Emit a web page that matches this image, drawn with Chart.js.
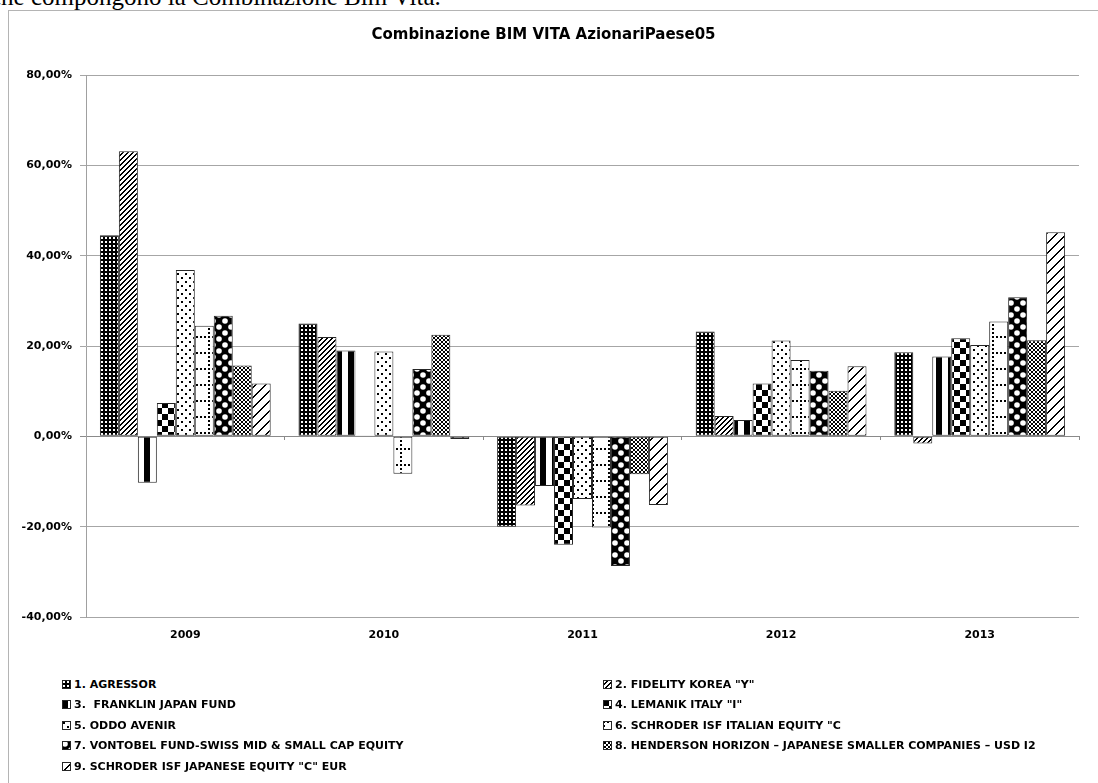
<!DOCTYPE html>
<html>
<head>
<meta charset="utf-8">
<script src="https://cdn.jsdelivr.net/npm/chart.js@4.4.0/dist/chart.umd.min.js"></script>
<style>
  body { margin: 0; background: #fff; width: 1098px; height: 783px; overflow: hidden; position: relative; }
  #intro { position: absolute; left: -10px; top: -16px; font: 25px/25px "Liberation Serif", serif; white-space: nowrap; color: #000; }
  #frame { position: absolute; left: 8px; top: 10px; width: 1200px; height: 900px; border: 1px solid #b4b4b4; }
  #chart { position: absolute; left: 0; top: 0; }
  #legend { position: absolute; left: 62px; top: 674px; display: grid; grid-template-columns: 541px 480px; grid-auto-rows: 20.5px; font: bold 11px "DejaVu Sans", sans-serif; color: #000; }
  .item { display: flex; align-items: center; white-space: pre; }
  .item canvas { width: 9px; height: 9px; margin-right: 3px; }
</style>
</head>
<body>
<div id="intro">che compongono la Combinazione Bim Vita.</div>
<div id="frame"></div>
<canvas id="chart" width="1098" height="660"></canvas>
<div id="legend"></div>
<script>
const years = ['2009', '2010', '2011', '2012', '2013'];
const fundNames = [
  '1. AGRESSOR',
  '2. FIDELITY KOREA "Y"',
  '3.  FRANKLIN JAPAN FUND',
  '4. LEMANIK ITALY "I"',
  '5. ODDO AVENIR',
  '6. SCHRODER ISF ITALIAN EQUITY "C',
  '7. VONTOBEL FUND-SWISS MID & SMALL CAP EQUITY',
  '8. HENDERSON HORIZON \u2013 JAPANESE SMALLER COMPANIES \u2013 USD I2',
  '9. SCHRODER ISF JAPANESE EQUITY "C" EUR'
];
// rendimenti annui in %
const agressor = [44.5, 25.0, -20.0, 23.2, 18.6];
const fidelityKorea = [63.1, 22.0, -15.3, 4.5, -1.6];
const franklinJapan = [-10.3, 19.0, -11.0, 3.6, 17.7];
const lemanikItaly = [7.4, 0.2, -24.0, 11.7, 21.7];
const oddoAvenir = [36.8, 18.8, -13.9, 21.2, 20.2];
const schroderItalian = [24.5, -8.3, -20.2, 16.9, 25.4];
const vontobelSwiss = [26.7, 14.9, -28.7, 14.5, 30.8];
const hendersonJapan = [15.7, 22.5, -8.4, 10.1, 21.3];
const schroderJapanese = [11.7, -0.6, -15.2, 15.5, 45.2];
const yTicks = [-40, -20, 0, 20, 40, 60, 80];

const seriesValues = [agressor, fidelityKorea, franklinJapan, lemanikItaly, oddoAvenir,
  schroderItalian, vontobelSwiss, hendersonJapan, schroderJapanese];

function tile(w, h, draw) {
  const c = document.createElement('canvas');
  c.width = w;
  c.height = h;
  const g = c.getContext('2d');
  g.fillStyle = '#fff';
  g.fillRect(0, 0, w, h);
  g.fillStyle = '#000';
  draw(g, w, h);
  return c;
}

function makePatterns(ctx) {
  const tiles = [
    tile(4, 4, g => { g.fillRect(0, 0, 4, 4); g.fillStyle = '#fff'; g.fillRect(1, 1, 2, 2); }),
    tile(5, 5, g => { for (let i = 0; i < 5; i++) { g.fillRect(i, 4 - i, 1, 1); g.fillRect((i + 1) % 5, 4 - i, 1, 1); } }),
    tile(12, 1, g => { g.fillRect(0, 0, 6, 1); }),
    tile(12, 12, g => { g.fillRect(0, 0, 6, 6); g.fillRect(6, 6, 6, 6); }),
    tile(8, 8, g => { g.fillRect(1, 1, 2, 2); g.fillRect(5, 5, 2, 2); }),
    tile(16, 16, g => { for (let i = 0; i < 16; i += 4) { g.fillRect(i, 0, 2, 2); g.fillRect(0, i, 2, 2); } }),
    tile(12, 12, g => {
      g.fillRect(0, 0, 12, 12);
      g.fillStyle = '#fff';
      g.beginPath(); g.arc(3, 3, 2.8, 0, Math.PI * 2); g.fill();
      g.beginPath(); g.arc(9, 9, 2.8, 0, Math.PI * 2); g.fill();
    }),
    tile(4, 4, g => { for (let i = 0; i < 4; i++) { g.fillRect(i, i, 1, 1); g.fillRect(i, 3 - i, 1, 1); } }),
    tile(10, 10, g => { for (let i = 0; i < 10; i++) { g.fillRect(i, 9 - i, 1, 1); g.fillRect((i + 1) % 10, 9 - i, 1, 1); } })
  ];
  return tiles.map(t => ctx.createPattern(t, 'repeat'));
}

function buildLegend(patterns) {
  const box = document.getElementById('legend');
  fundNames.forEach((name, i) => {
    const item = document.createElement('div');
    item.className = 'item';
    const sw = document.createElement('canvas');
    sw.width = 9;
    sw.height = 9;
    const g = sw.getContext('2d');
    g.fillStyle = patterns[i];
    g.fillRect(0, 0, 9, 9);
    g.strokeStyle = '#262626';
    g.lineWidth = 1;
    g.strokeRect(0.5, 0.5, 8, 8);
    item.appendChild(sw);
    const label = document.createElement('span');
    label.textContent = name;
    item.appendChild(label);
    box.appendChild(item);
  });
}

function init() {
  const canvas = document.getElementById('chart');
  const ctx = canvas.getContext('2d');
  const patterns = makePatterns(ctx);
  Chart.defaults.font.family = '"DejaVu Sans", sans-serif';
  Chart.defaults.color = '#000';

  new Chart(ctx, {
    type: 'bar',
    data: {
      labels: years,
      datasets: seriesValues.map((vals, i) => ({
        label: fundNames[i],
        data: vals,
        backgroundColor: patterns[i],
        borderColor: '#262626',
        borderWidth: 1,
        borderSkipped: false,
        categoryPercentage: 0.86,
        barPercentage: 1.0
      }))
    },
    options: {
      responsive: false,
      animation: false,
      layout: { padding: { left: 8, right: 19, top: 10, bottom: 13 } },
      plugins: {
        legend: { display: false },
        tooltip: { enabled: false },
        title: {
          display: true,
          text: 'Combinazione BIM VITA AzionariPaese05',
          color: '#000',
          font: { size: 15, weight: 'bold' },
          padding: { top: 16, bottom: 31 }
        }
      },
      scales: {
        x: {
          position: { y: 0 },
          ticks: { display: false },
          grid: { offset: true, drawOnChartArea: false, drawTicks: true, tickLength: 4, color: '#8a8a8a' },
          border: { display: false }
        },
        x2: {
          type: 'category',
          labels: years,
          offset: true,
          position: 'bottom',
          grid: { display: false, drawTicks: false },
          border: { display: false },
          ticks: { padding: 12, color: '#000', font: { size: 11, weight: 'bold' } },
          afterFit: s => { s.height = 30; }
        },
        y: {
          min: yTicks[0],
          max: yTicks[yTicks.length - 1],
          afterBuildTicks: s => { s.ticks = yTicks.map(v => ({ value: v })); },
          ticks: {
            padding: 8,
            color: '#000',
            font: { size: 11, weight: 'bold' },
            callback: v => v.toFixed(2).replace('.', ',') + '%'
          },
          grid: { color: c => c.tick && c.tick.value === 0 ? '#8a8a8a' : '#a6a6a6', tickLength: 6 },
          border: { color: '#a0a0a0' },
          afterFit: s => { s.width = 78; }
        }
      }
    }
  });

  buildLegend(patterns);
}

document.addEventListener('DOMContentLoaded', init);
</script>
</body>
</html>
